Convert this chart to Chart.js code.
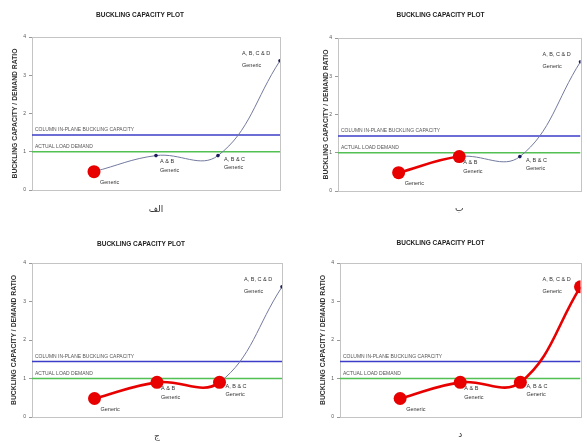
<!DOCTYPE html>
<html lang="en">
<head>
<meta charset="UTF-8">
<title>Buckling capacity plot</title>
<style>
    body {
        margin: 0;
        background: #fff;
    }
    #sheet {
        position: relative;
        width: 587px;
        height: 443px;
        overflow: hidden;
    }
    #sheet canvas {
        position: absolute;
    }
</style>
<script src="https://cdn.jsdelivr.net/npm/chart.js"></script>
</head>
<body>
<div id="sheet">
    <canvas id="p0"></canvas>
    <canvas id="p1"></canvas>
    <canvas id="p2"></canvas>
    <canvas id="p3"></canvas>
</div>
<script>
// data (same curve, more stages highlighted each time)
const stageX = [1, 2, 3, 4];
const stageRatio = [0.48, 0.9, 0.9, 3.38];
const stageNames = ['', 'A & B', 'A, B & C', 'A, B, C & D'];
const stageSub = 'Generic';
const capacityRatio = 1.44;
const demandRatio = 1.0;
const capacityText = 'COLUMN IN-PLANE BUCKLING CAPACITY';
const demandText = 'ACTUAL LOAD DEMAND';
const yTicks = [0, 1, 2, 3, 4];
const xMin = 0, xMax = 4;
const panelLetters = ['الف', 'ب', 'ج', 'د'];
const redCount = [1, 2, 3, 4];

// layout of each panel on the sheet
const panels = [
    {left: 0,   top: 0,   w: 295, h: 222, axisW: 32, yTitle: 15, right: 15, t1: 11.1, t2: 18.1, gap: 14.6, bottom: 6.6},
    {left: 295, top: 0,   w: 292, h: 222, axisW: 43, yTitle: 31, right: 1,  t1: 11.1, t2: 19.1, gap: 12, bottom: 8.2},
    {left: 0,   top: 222, w: 295, h: 221, axisW: 32, yTitle: 14, right: 13, t1: 18.1, t2: 15.1, gap: 14.6, bottom: 0.6},
    {left: 295, top: 222, w: 292, h: 221, axisW: 45, yTitle: 28, right: 1,  t1: 17.1, t2: 16.1, gap: 12.6, bottom: 2.6}
];

// where the stage labels sit relative to their point: [dx, dy first line, dy "Generic"]
const labelPlace = [[6, 0, 11], [4, 6, 15], [6, 4, 12], [-38, -7, 5]];

const RED = '#e80000';
const GRAY = '#737a9f';
const BLUE = '#3c3cc8';
const GREEN = '#52c052';
const FONT = '"Liberation Sans", Arial, sans-serif';
const Y_TITLE_SIZE = 6.8;

const annotate = {
    id: 'annotate',
    beforeDatasetsDraw(chart) {
        const {ctx, chartArea: a} = chart;
        ctx.save();
        ctx.strokeStyle = '#c4c4c4';
        ctx.lineWidth = 1;
        ctx.strokeRect(Math.round(a.left) + 0.5, Math.round(a.top) + 0.5,
            Math.round(a.right - a.left), Math.round(a.bottom - a.top));
        ctx.restore();
    },
    afterDatasetsDraw(chart) {
        const {ctx, chartArea: a, scales: {y}} = chart;
        ctx.save();
        ctx.font = '5px ' + FONT;
        ctx.fillStyle = '#555';
        ctx.textBaseline = 'middle';
        ctx.textAlign = 'left';
        ctx.fillText(capacityText, a.left + 3, y.getPixelForValue(capacityRatio) - 5);
        ctx.fillText(demandText, a.left + 3, y.getPixelForValue(demandRatio) - 5);

        ctx.font = '5.5px ' + FONT;
        ctx.fillStyle = '#333';
        chart.getDatasetMeta(0).data.forEach((p, i) => {
            const [dx, dy1, dy2] = labelPlace[i];
            if (stageNames[i]) ctx.fillText(stageNames[i], p.x + dx, p.y + dy1);
            ctx.fillText(stageSub, p.x + dx, p.y + dy2);
        });
        ctx.restore();
    }
};

panels.forEach((pn, idx) => {
    const canvas = document.getElementById('p' + idx);
    canvas.width = pn.w;
    canvas.height = pn.h;
    canvas.style.left = pn.left + 'px';
    canvas.style.top = pn.top + 'px';
    const k = redCount[idx];

    new Chart(canvas, {
        type: 'line',
        data: {
            datasets: [
                {
                    data: stageX.map((x, i) => ({x: x, y: stageRatio[i]})),
                    tension: 0.4,
                    order: 0,
                    borderColor: GRAY,
                    borderWidth: 1,
                    segment: {
                        borderColor: c => c.p1DataIndex < k ? RED : GRAY,
                        borderWidth: c => c.p1DataIndex < k ? 2.6 : 1
                    },
                    pointRadius: stageX.map((_, i) => i < k ? 6.5 : 1.8),
                    pointBackgroundColor: stageX.map((_, i) => i < k ? RED : '#1c1c5c'),
                    pointBorderColor: stageX.map((_, i) => i < k ? RED : '#1c1c5c'),
                    pointBorderWidth: 0
                },
                {
                    data: [{x: xMin, y: capacityRatio}, {x: xMax, y: capacityRatio}],
                    borderColor: BLUE,
                    borderWidth: 1.5,
                    pointRadius: 0,
                    order: 1
                },
                {
                    data: [{x: xMin, y: demandRatio}, {x: xMax, y: demandRatio}],
                    borderColor: GREEN,
                    borderWidth: 1.5,
                    pointRadius: 0,
                    order: 1
                }
            ]
        },
        options: {
            responsive: false,
            animation: false,
            events: [],
            layout: {
                padding: {left: 0, right: pn.right, top: 0, bottom: pn.bottom}
            },
            scales: {
                x: {
                    type: 'linear',
                    min: xMin,
                    max: xMax,
                    ticks: {display: false},
                    grid: {display: false, drawTicks: false},
                    border: {display: false},
                    title: {
                        display: true,
                        text: panelLetters[idx],
                        color: '#333',
                        font: {family: '"DejaVu Sans", sans-serif', size: 9},
                        padding: {top: pn.gap, bottom: 0}
                    }
                },
                y: {
                    min: 0,
                    max: 4,
                    afterBuildTicks: s => { s.ticks = yTicks.map(v => ({value: v})); },
                    afterFit: s => { s.width = pn.axisW; },
                    ticks: {
                        color: '#555',
                        padding: 3,
                        font: {family: FONT, size: 5}
                    },
                    grid: {
                        drawOnChartArea: false,
                        drawTicks: true,
                        tickLength: 3,
                        color: '#999'
                    },
                    border: {display: false},
                    title: {
                        display: true,
                        text: 'BUCKLING CAPACITY / DEMAND RATIO',
                        color: '#333',
                        font: {family: FONT, size: Y_TITLE_SIZE, weight: 'bold'},
                        padding: {top: pn.yTitle - Y_TITLE_SIZE * 0.6, bottom: 0}
                    }
                }
            },
            plugins: {
                legend: {display: false},
                tooltip: {enabled: false},
                title: {
                    display: true,
                    text: 'BUCKLING CAPACITY PLOT',
                    color: '#222',
                    font: {family: FONT, size: 6.5, weight: 'bold'},
                    padding: {top: pn.t1, bottom: pn.t2}
                }
            }
        },
        plugins: [annotate]
    });
});
</script>
</body>
</html>
